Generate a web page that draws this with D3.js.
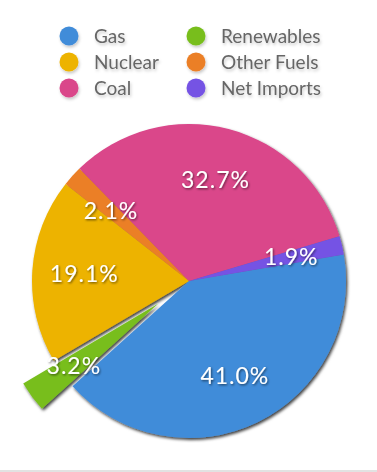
<!DOCTYPE html>
<html>
<head>
<meta charset="utf-8">
<script src="https://cdn.jsdelivr.net/npm/d3@7"></script>
<style>
  html, body { margin: 0; padding: 0; background: #fff; }
  svg { display: block; }
</style>
</head>
<body>
<div id="chart"></div>
<script>
// ---- data ----
const categories = ["Gas", "Nuclear", "Coal", "Renewables", "Other Fuels", "Net Imports"];
const values = [41.0, 19.1, 32.7, 3.2, 2.1, 1.9];
const colors = ["#418CD9", "#EDB300", "#DA468A", "#78BE1F", "#EB7F26", "#7452E4"];
// clockwise drawing order of the slices
const pieOrder = ["Gas", "Renewables", "Nuclear", "Other Fuels", "Coal", "Net Imports"];
const exploded = ["Renewables"];

const W = 377, H = 472;
const cx = 189, cy = 281, R = 157;
const startDeg = 80.3;
const explodeDist = 38;
const labelR = 105;

const svg = d3.select("#chart").append("svg")
  .attr("width", W).attr("height", H);

const defs = svg.append("defs");
const fPie = defs.append("filter").attr("id", "pieShadow")
  .attr("x", "-20%").attr("y", "-20%").attr("width", "140%").attr("height", "140%");
fPie.append("feDropShadow").attr("dx", 1.5).attr("dy", 2).attr("stdDeviation", 1.6)
  .attr("flood-color", "#000").attr("flood-opacity", 0.75);
const fLab = defs.append("filter").attr("id", "labShadow")
  .attr("x", "-20%").attr("y", "-30%").attr("width", "140%").attr("height", "160%");
fLab.append("feDropShadow").attr("dx", 1).attr("dy", 1.2).attr("stdDeviation", 0.8)
  .attr("flood-color", "#000").attr("flood-opacity", 0.55);
const fLeg = defs.append("filter").attr("id", "legShadow")
  .attr("x", "-20%").attr("y", "-30%").attr("width", "140%").attr("height", "170%");
fLeg.append("feDropShadow").attr("dx", 1).attr("dy", 2).attr("stdDeviation", 1.5)
  .attr("flood-color", "#000").attr("flood-opacity", 0.22);

// bottom divider
svg.append("rect").attr("x", 0).attr("y", H - 2).attr("width", W).attr("height", 2).attr("fill", "#e2e2e2");

// ---- legend ----
const color = d3.scaleOrdinal().domain(categories).range(colors);
const legX = d3.scalePoint().domain([0, 1]).range([69, 196]);
const legY = d3.scalePoint().domain([0, 1, 2]).range([36, 88]);
const leg = svg.append("g").selectAll("g").data(categories).join("g")
  .attr("transform", (d, i) => `translate(${legX(Math.floor(i / 3))},${legY(i % 3)})`);
leg.append("circle").attr("r", 9.5).attr("fill", d => color(d)).attr("filter", "url(#legShadow)");
leg.append("text").attr("x", 25).attr("dy", "0.36em")
  .attr("font-family", "Lato, 'Open Sans', sans-serif").attr("font-size", 19)
  .attr("fill", "#666").attr("filter", "url(#legShadow)")
  .text(d => d);

// ---- pie ----
const valueOf = name => values[categories.indexOf(name)];
const a0 = startDeg * Math.PI / 180;
const pie = d3.pie().sort(null).value(d => valueOf(d)).startAngle(a0).endAngle(a0 + 2 * Math.PI);
const arcs = pie(pieOrder);
const arc = d3.arc().innerRadius(0).outerRadius(R);
const offset = d => {
  if (!exploded.includes(d.data)) return [0, 0];
  const m = (d.startAngle + d.endAngle) / 2;
  return [Math.sin(m) * explodeDist, -Math.cos(m) * explodeDist];
};

const pg = svg.append("g").attr("transform", `translate(${cx},${cy})`).attr("filter", "url(#pieShadow)");
pg.selectAll("path").data(arcs).join("path")
  .attr("d", arc)
  .attr("transform", d => `translate(${offset(d)})`)
  .attr("fill", d => color(d.data));

const lg = svg.append("g").attr("transform", `translate(${cx},${cy})`);
lg.selectAll("text").data(arcs).join("text")
  .attr("transform", d => {
    const m = (d.startAngle + d.endAngle) / 2;
    const o = offset(d);
    return `translate(${Math.sin(m) * labelR + o[0]},${-Math.cos(m) * labelR + o[1]})`;
  })
  .attr("text-anchor", "middle").attr("dy", "0.36em")
  .attr("font-family", "Lato, 'Open Sans', sans-serif").attr("font-size", 23)
  .attr("letter-spacing", 1)
  .attr("fill", "#fff").attr("filter", "url(#labShadow)")
  .text(d => d3.format(".1f")(d.value) + "%");
</script>
</body>
</html>
